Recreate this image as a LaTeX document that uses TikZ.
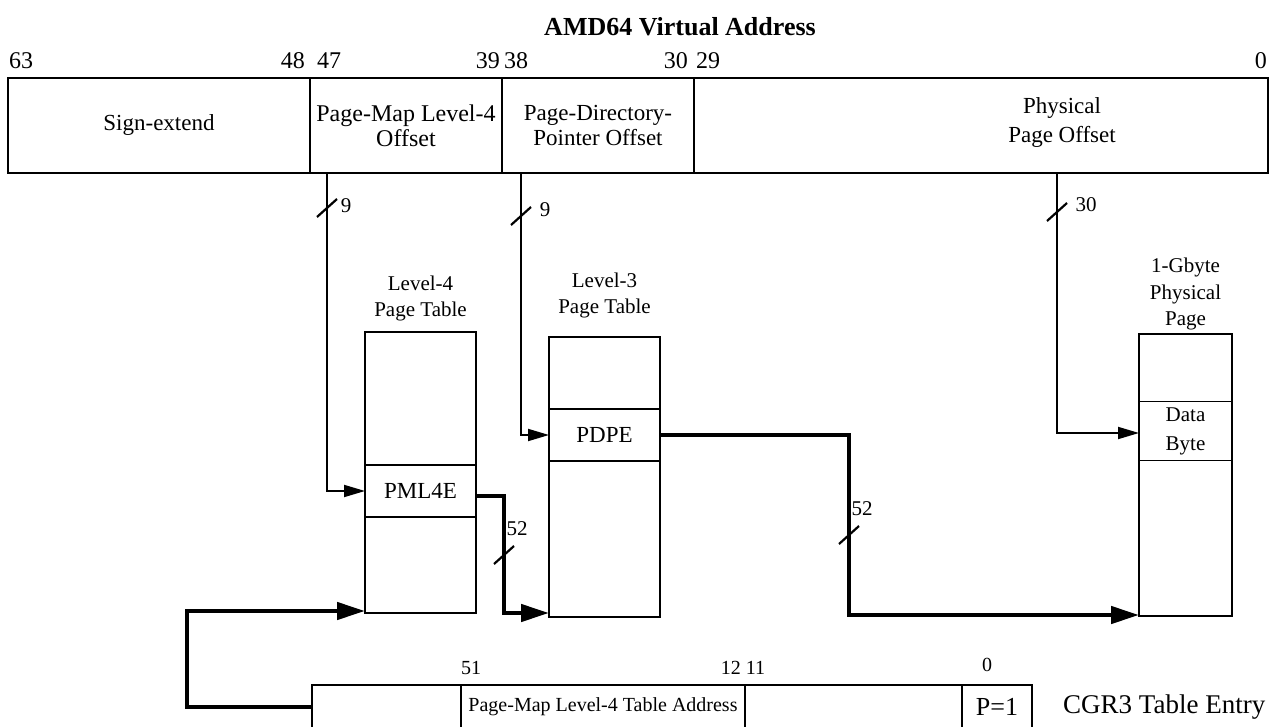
\documentclass[tikz,border=0pt]{standalone}
\usepackage{fontspec}
\setmainfont{Liberation Serif}
\usetikzlibrary{arrows.meta,calc}

\begin{document}
\begin{tikzpicture}[x=1pt,y=-1pt,
  reg/.style={draw,line width=2.4pt,inner sep=0pt,outer sep=0pt,align=center,font=\fontsize{23}{25}\selectfont},
  tbl/.style={draw,line width=1.8pt,inner sep=0pt,outer sep=0pt,minimum width=111,align=center,font=\fontsize{23}{29}\selectfont},
  tblhead/.style={inner sep=0pt,align=center,font=\fontsize{21}{26}\selectfont},
  bitno/.style={inner sep=0pt,font=\fontsize{24}{24}\selectfont},
  lowno/.style={inner sep=0pt,font=\fontsize{20}{20}\selectfont},
  slashlbl/.style={inner sep=0pt,font=\fontsize{21}{21}\selectfont},
  slash/.style={line width=2.2pt},
  tap/.style={line width=1.8pt,-{Triangle[length=21pt,width=12pt]}},
  bus/.style={line width=4.5pt,-{Triangle[length=28pt,width=17pt]}}]
  \useasboundingbox (0,0) rectangle (1271,727);

  \node[font=\bfseries\fontsize{26}{26}\selectfont] (title) at (680,27) {AMD64 Virtual Address};

  \node[bitno,anchor=west] (b63) at (9,61) {63};
  \node[bitno,anchor=east] (b48) at (305,61) {48};
  \node[bitno,anchor=west] (b47) at (317,61) {47};
  \node[bitno,anchor=east] (b39) at (500,61) {39};
  \node[bitno,anchor=west] (b38) at (504,61) {38};
  \node[bitno,anchor=east] (b30) at (688,61) {30};
  \node[bitno,anchor=west] (b29) at (696,61) {29};
  \node[bitno,anchor=east] (b0) at (1267,61) {0};

  \node[reg,minimum width=302,minimum height=95] (sgn) at (159,125.5) {Sign-extend};
  \node[reg,minimum width=192,minimum height=95,font=\fontsize{24}{25}\selectfont] (pml) at (406,125.5) {Page-Map Level-4\\Offset};
  \node[reg,minimum width=192,minimum height=95] (pdp) at (598,125.5) {Page-Directory-\\Pointer Offset};
  \node[reg,minimum width=574,minimum height=95] (ppo) at (981,125.5) {};
  \node[inner sep=0pt,align=center,font=\fontsize{23}{29}\selectfont] (ppotxt) at (1062,123) {Physical\\Page Offset};

  \coordinate (tapA) at ([xshift=17pt]pml.south west);
  \coordinate (tapB) at ([xshift=19pt]pdp.south west);
  \coordinate (tapC) at ([xshift=363pt]ppo.south west);

  \node[tblhead] (lvl4head) at (420.5,298) {Level-4\\Page Table};
  \node[tbl,minimum height=281] (lvl4) at (420.5,472.5) {};
  \node[tbl,minimum height=52] (pmle) at (420.5,491) {PML4E};

  \node[tblhead] (lvl3head) at (604.5,295.5) {Level-3\\Page Table};
  \node[tbl,minimum height=280] (lvl3) at (604.5,477) {};
  \node[tbl,minimum height=52,line width=2.5pt] (pdpe) at (604.5,435) {PDPE};

  \node[tblhead,font=\fontsize{21}{26.5}\selectfont] (pagehead) at (1185.5,294) {1-Gbyte\\Physical\\Page};
  \node[tbl,minimum width=93,minimum height=282] (page) at (1185.5,475) {};
  \node[tbl,minimum width=93,minimum height=59,font=\fontsize{21}{29}\selectfont] (dbyte) at (1185.5,431) {Data\\Byte};

  \node[lowno] (b51) at (471,668) {51};
  \node[lowno] (b1211) at (743,668) {12 11};
  \node[lowno] (b0low) at (987,665) {0};
  \node[reg,minimum width=149,minimum height=44] (ent1) at (386.5,707) {};
  \node[reg,minimum width=284,minimum height=44,font=\fontsize{20}{20}\selectfont] (ent2) at (603,707) {Page-Map Level-4 Table Address};
  \node[reg,minimum width=217,minimum height=44] (ent3) at (853.5,707) {};
  \node[reg,minimum width=70,minimum height=44,font=\fontsize{26}{26}\selectfont] (ent4) at (997,707) {P=1};
  \node[anchor=west,inner sep=0pt,font=\fontsize{27}{27}\selectfont] (cgr3) at (1063,707) {CGR3 Table Entry};

  \draw[tap] (tapA) |- (pmle.west);
  \draw[tap] (tapB) |- (pdpe.west);
  \draw[tap] (tapC) |- ([yshift=-2pt]dbyte.west);
  \draw[bus] ([yshift=-5pt]pmle.east) -- ++(28,0) coordinate (bendA) |- ([yshift=4pt]lvl3.south west);
  \draw[bus] (pdpe.east) -- ++(189,0) coordinate (bendB) |- ([yshift=1pt]page.south west);
  \draw[bus] (ent1.west) -- ++(-125,0) |- ([yshift=2pt]lvl4.south west);

  \draw[slash] ($(tapA)+(0,35)$) +(-10,9) -- +(10,-9);
  \draw[slash] ($(tapB)+(0,43)$) +(-10,9) -- +(10,-9);
  \draw[slash] ($(tapC)+(0,39)$) +(-10,9) -- +(10,-9);
  \draw[slash] ($(bendA)+(0,59)$) +(-10,9) -- +(10,-9);
  \draw[slash] ($(bendB)+(0,100)$) +(-10,9) -- +(10,-9);
  \node[slashlbl] (wA) at ($(tapA)+(19,33)$) {9};
  \node[slashlbl] (wB) at ($(tapB)+(24,37)$) {9};
  \node[slashlbl] (wC) at ($(tapC)+(29,32)$) {30};
  \node[slashlbl] (wD) at ($(bendA)+(13,33)$) {52};
  \node[slashlbl] (wE) at ($(bendB)+(13,74)$) {52};
\end{tikzpicture}
\end{document}
